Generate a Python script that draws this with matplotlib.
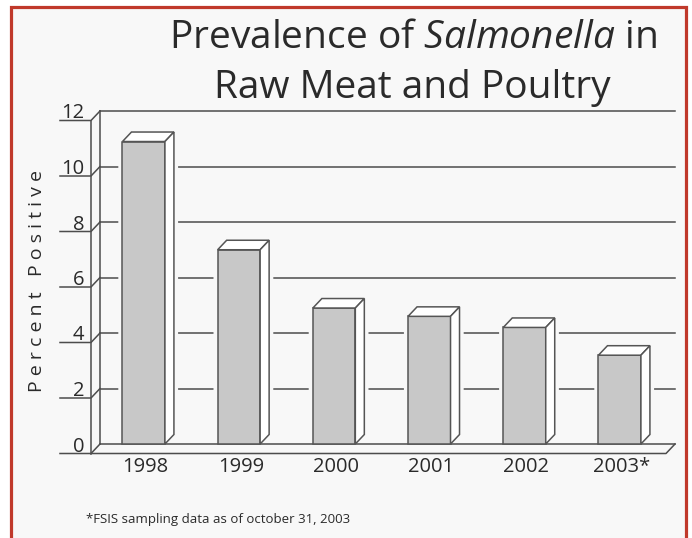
import matplotlib.pyplot as plt
from matplotlib.patches import Polygon, Rectangle

# -----------------------------------
# Data
# -----------------------------------
years = ["1998", "1999", "2000", "2001", "2002", "2003*"]
percent_positive = [10.9, 7.0, 4.9, 4.6, 4.2, 3.2]
y_ticks = [0, 2, 4, 6, 8, 10, 12]
title_line1 = r"Prevalence of $\mathit{Salmonella}$ in"
title_line2 = "Raw Meat and Poultry"
y_label = "Percent Positive"
footnote = "*FSIS sampling data as of october 31, 2003"

plt.rcParams['font.family'] = ['Open Sans', 'DejaVu Sans']
plt.rcParams['mathtext.fontset'] = 'custom'
plt.rcParams['mathtext.rm'] = 'Open Sans'
plt.rcParams['mathtext.it'] = 'Open Sans:italic'

W, H = 692, 538
BG = '#f8f8f8'
LINE = '#4d4d4d'
EDGE = '#555555'
TEXT = '#2a2a2a'

fig = plt.figure(figsize=(W / 100, H / 100), dpi=100, facecolor='white')

# red frame
frame = Rectangle((11 / W, -0.05), 675 / W, 1.05 - 7 / H, transform=fig.transFigure,
                  facecolor=BG, edgecolor='#c0392b', linewidth=2.3, zorder=0)
fig.add_artist(frame)

# axes spans the whole figure, scaled so the back wall sits where it does in the picture
ax = fig.add_axes([0, 0, 1, 1])
ax.set_axis_off()
ax.patch.set_visible(False)

px_x = 95.2          # pixels per category
px_y = 333 / 12      # pixels per percent
wall_l = -0.459
wall_r = wall_l + 575 / px_x
ax.set_xlim(wall_l - 100 / px_x, wall_l - 100 / px_x + W / px_x)
ax.set_ylim(-94 / px_y, -94 / px_y + H / px_y)

dx, dy = 9 / px_x, 9.5 / px_y      # depth of the 3d effect
tick_len = 31 / px_x
front_l = wall_l - dx

# walls, grid and front axis
ax.plot([front_l, front_l], [-dy, 12 - dy], color=LINE, lw=1.1, clip_on=False)
ax.plot([wall_l, wall_l], [0, 12], color=LINE, lw=1.1, clip_on=False)
for v in y_ticks:
    ax.plot([front_l - tick_len, front_l, wall_l], [v - dy, v - dy, v], color=LINE, lw=1.1, zorder=1)
    # back zero line stays unbroken under the bars
    ax.plot([wall_l, wall_r], [v, v], color=LINE, lw=1.1, zorder=2.5 if v == 0 else 1)
    ax.text(front_l - 7 / px_x, v - dy + 2 / px_y, str(v), ha='right', va='baseline',
            fontsize=14.5, color=TEXT)
# floor front edge
ax.plot([front_l, wall_r - dx, wall_r], [-dy, -dy, 0], color=LINE, lw=1.1, zorder=1)

# bars with 3d top and side
bar_w = 0.446
x = list(range(len(years)))
for xi, v in zip(x, percent_positive):
    l, r = xi - bar_w / 2, xi + bar_w / 2
    # gap in the grid lines around each bar
    ax.add_patch(Polygon([(l, 0), (r, 0), (r + dx, dy), (r + dx, v + dy), (l + dx, v + dy), (l, v)],
                         closed=True, facecolor=BG, edgecolor=BG, lw=6, zorder=2))
ax.bar(x, percent_positive, width=bar_w, color='#c8c8c8', edgecolor=EDGE, linewidth=1.1, zorder=3)
for xi, v in zip(x, percent_positive):
    l, r = xi - bar_w / 2, xi + bar_w / 2
    ax.add_patch(Polygon([(l, v), (r, v), (r + dx, v + dy), (l + dx, v + dy)], closed=True,
                         facecolor='white', edgecolor=EDGE, lw=1.1, zorder=3))
    ax.add_patch(Polygon([(r, 0), (r + dx, dy), (r + dx, v + dy), (r, v)], closed=True,
                         facecolor='white', edgecolor=EDGE, lw=1.1, zorder=3))

for xi, lab in zip(x, years):
    ax.text(xi + 0.02, -23 / px_y, lab, ha='center', va='center', fontsize=14.5, color=TEXT)

# titles and labels
fig.text(413 / W, 1 - 48 / H, title_line1, ha='center', va='baseline', fontsize=28, color=TEXT)
fig.text(412 / W, 1 - 98 / H, title_line2, ha='center', va='baseline', fontsize=28, color=TEXT)
fig.text(37 / W, 1 - 281 / H, " ".join(y_label), rotation=90, ha='center', va='center',
         fontsize=14, color=TEXT)
fig.text(86 / W, 1 - 523 / H, footnote, ha='left', va='baseline', fontsize=9.5, color=TEXT)

fig.savefig('out.png', dpi=100, facecolor='white')
